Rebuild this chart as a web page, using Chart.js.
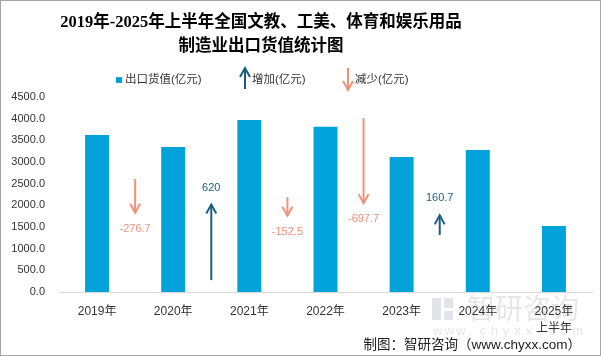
<!DOCTYPE html>
<html>
<head>
<meta charset="utf-8">
<script src="https://cdn.jsdelivr.net/npm/chart.js@4.4.1/dist/chart.umd.min.js"></script>
<style>
html,body{margin:0;padding:0;background:#fff;}
canvas{display:block;}
</style>
</head>
<body>
<canvas id="c" width="601" height="356"></canvas>
<script>
// ---- data ----
const categories = ['2019年','2020年','2021年','2022年','2023年','2024年',['2025年','上半年']];
const exportValues = [3623.3, 3346.6, 3966.6, 3814.1, 3116.4, 3277.1, 1523.0];
const changeValues = [-276.7, 620, -152.5, -697.7, 160.7];
// where each change arrow starts, on the hidden secondary (change) axis
const arrowBase = [927, 98, 779, 1427, 468];
const yTickMin = 0, yTickMax = 4500, yTickStep = 500;
const titleLines = ['2019年-2025年上半年全国文教、工美、体育和娱乐用品','制造业出口货值统计图'];
const legendLabels = ['出口货值(亿元)','增加(亿元)','减少(亿元)'];
const sourceText = '制图：智研咨询（www.chyxx.com）';

const BAR = '#00a2da', UP = '#195f80', DOWN = '#f2907a';
const SANS = '"Liberation Sans","Noto Sans CJK SC",sans-serif';

function drawArrow(ctx, x, y0, y1, color) {
  const dir = y1 > y0 ? 1 : -1;
  ctx.save();
  ctx.strokeStyle = color; ctx.lineWidth = 2; ctx.lineCap = 'butt';
  ctx.beginPath(); ctx.moveTo(x, y0); ctx.lineTo(x, y1); ctx.stroke();
  ctx.beginPath();
  ctx.moveTo(x - 5, y1 - dir * 9); ctx.lineTo(x, y1); ctx.lineTo(x + 5, y1 - dir * 9);
  ctx.stroke();
  ctx.restore();
}

const decor = {
  id: 'decor',
  beforeDraw(chart) {
    const ctx = chart.ctx;
    ctx.save();
    // watermark
    ctx.globalAlpha = 0.25;
    ctx.fillStyle = '#8a94a8';
    ctx.fillRect(432, 298, 9, 22);
    ctx.fillRect(444, 298, 9, 10);
    ctx.fillRect(444, 311, 9, 9);
    ctx.fillStyle = '#9a9a9a';
    ctx.font = '28px "Noto Sans CJK SC",sans-serif';
    ctx.textBaseline = 'middle'; ctx.textAlign = 'left';
    ctx.fillText('智研咨询', 467, 308);
    ctx.font = '13px ' + SANS;
    const w = 'www.chyxx.com';
    for (let i = 0; i < w.length; i++) ctx.fillText(w[i], 433 + i * 11.6, 331);
    ctx.restore();
  },
  afterDraw(chart) {
    const ctx = chart.ctx;
    ctx.save();
    // border
    ctx.strokeStyle = '#a6a6a6'; ctx.lineWidth = 1;
    ctx.strokeRect(0.5, 0.5, 600, 355);
    // title
    ctx.fillStyle = '#000';
    ctx.textAlign = 'center'; ctx.textBaseline = 'middle';
    ctx.font = 'bold 16.5px "Liberation Serif","Noto Sans CJK SC",serif';
    ctx.fillText(titleLines[0], 261, 23);
    ctx.fillText(titleLines[1], 261, 47);
    // legend
    ctx.font = '11.5px ' + SANS;
    ctx.textAlign = 'left';
    ctx.fillStyle = BAR; ctx.fillRect(116, 77, 6, 6);
    ctx.fillStyle = '#333'; ctx.fillText(legendLabels[0], 125, 80);
    drawArrow(ctx, 245, 89, 68, UP);
    ctx.fillStyle = '#333'; ctx.fillText(legendLabels[1], 252, 80);
    drawArrow(ctx, 348, 68, 90, DOWN);
    ctx.fillStyle = '#333'; ctx.fillText(legendLabels[2], 355, 80);
    // source
    ctx.font = '13.5px ' + SANS;
    ctx.textAlign = 'right'; ctx.fillStyle = '#222';
    ctx.fillText(sourceText, 581, 345);
    ctx.restore();
  },
  afterDatasetsDraw(chart) {
    const ctx = chart.ctx, xs = chart.scales.x, y2 = chart.scales.y2;
    ctx.save();
    ctx.font = '11px ' + SANS;
    ctx.textAlign = 'center'; ctx.textBaseline = 'middle';
    changeValues.forEach((v, i) => {
      const x = xs.getPixelForValue(i + 0.5);
      const p0 = y2.getPixelForValue(arrowBase[i]);
      const p1 = y2.getPixelForValue(arrowBase[i] + v);
      const col = v >= 0 ? UP : DOWN;
      drawArrow(ctx, x, p0, p1, col);
      ctx.fillStyle = col;
      const txt = String(v);
      if (v >= 0) ctx.fillText(txt, x, p1 - 17);
      else ctx.fillText(txt, x, p1 + 16);
    });
    ctx.restore();
  }
};

new Chart(document.getElementById('c'), {
  type: 'bar',
  data: {
    labels: categories,
    datasets: [{
      label: legendLabels[0],
      data: exportValues,
      backgroundColor: BAR,
      barPercentage: 0.315,
      categoryPercentage: 1.0,
      yAxisID: 'y'
    }]
  },
  options: {
    responsive: false,
    devicePixelRatio: 1,
    animation: false,
    layout: { padding: { left: 0, right: 9, top: 97, bottom: 0 } },
    plugins: { legend: { display: false }, title: { display: false }, tooltip: { enabled: false } },
    scales: {
      x: {
        grid: { display: false, drawTicks: false },
        border: { display: true, color: '#d9d9d9', width: 1 },
        ticks: { color: '#333', font: { size: 12, family: SANS, lineHeight: 1.45 }, padding: 11, maxRotation: 0, autoSkip: false },
        afterFit(s) { s.height = 64; s.paddingLeft = 0; s.paddingRight = 0; }
      },
      y: {
        min: yTickMin, max: yTickMax,
        grid: { display: false, drawTicks: false },
        border: { display: false },
        ticks: { stepSize: yTickStep, color: '#333', font: { size: 11, family: SANS }, padding: 14,
                 callback: v => Number(v).toFixed(1) },
        afterFit(s) { s.width = 59; s.paddingTop = 0; s.paddingBottom = 0; }
      },
      y2: {
        display: false, min: 0, max: 1600, position: 'right'
      }
    }
  },
  plugins: [decor]
});
</script>
</body>
</html>
